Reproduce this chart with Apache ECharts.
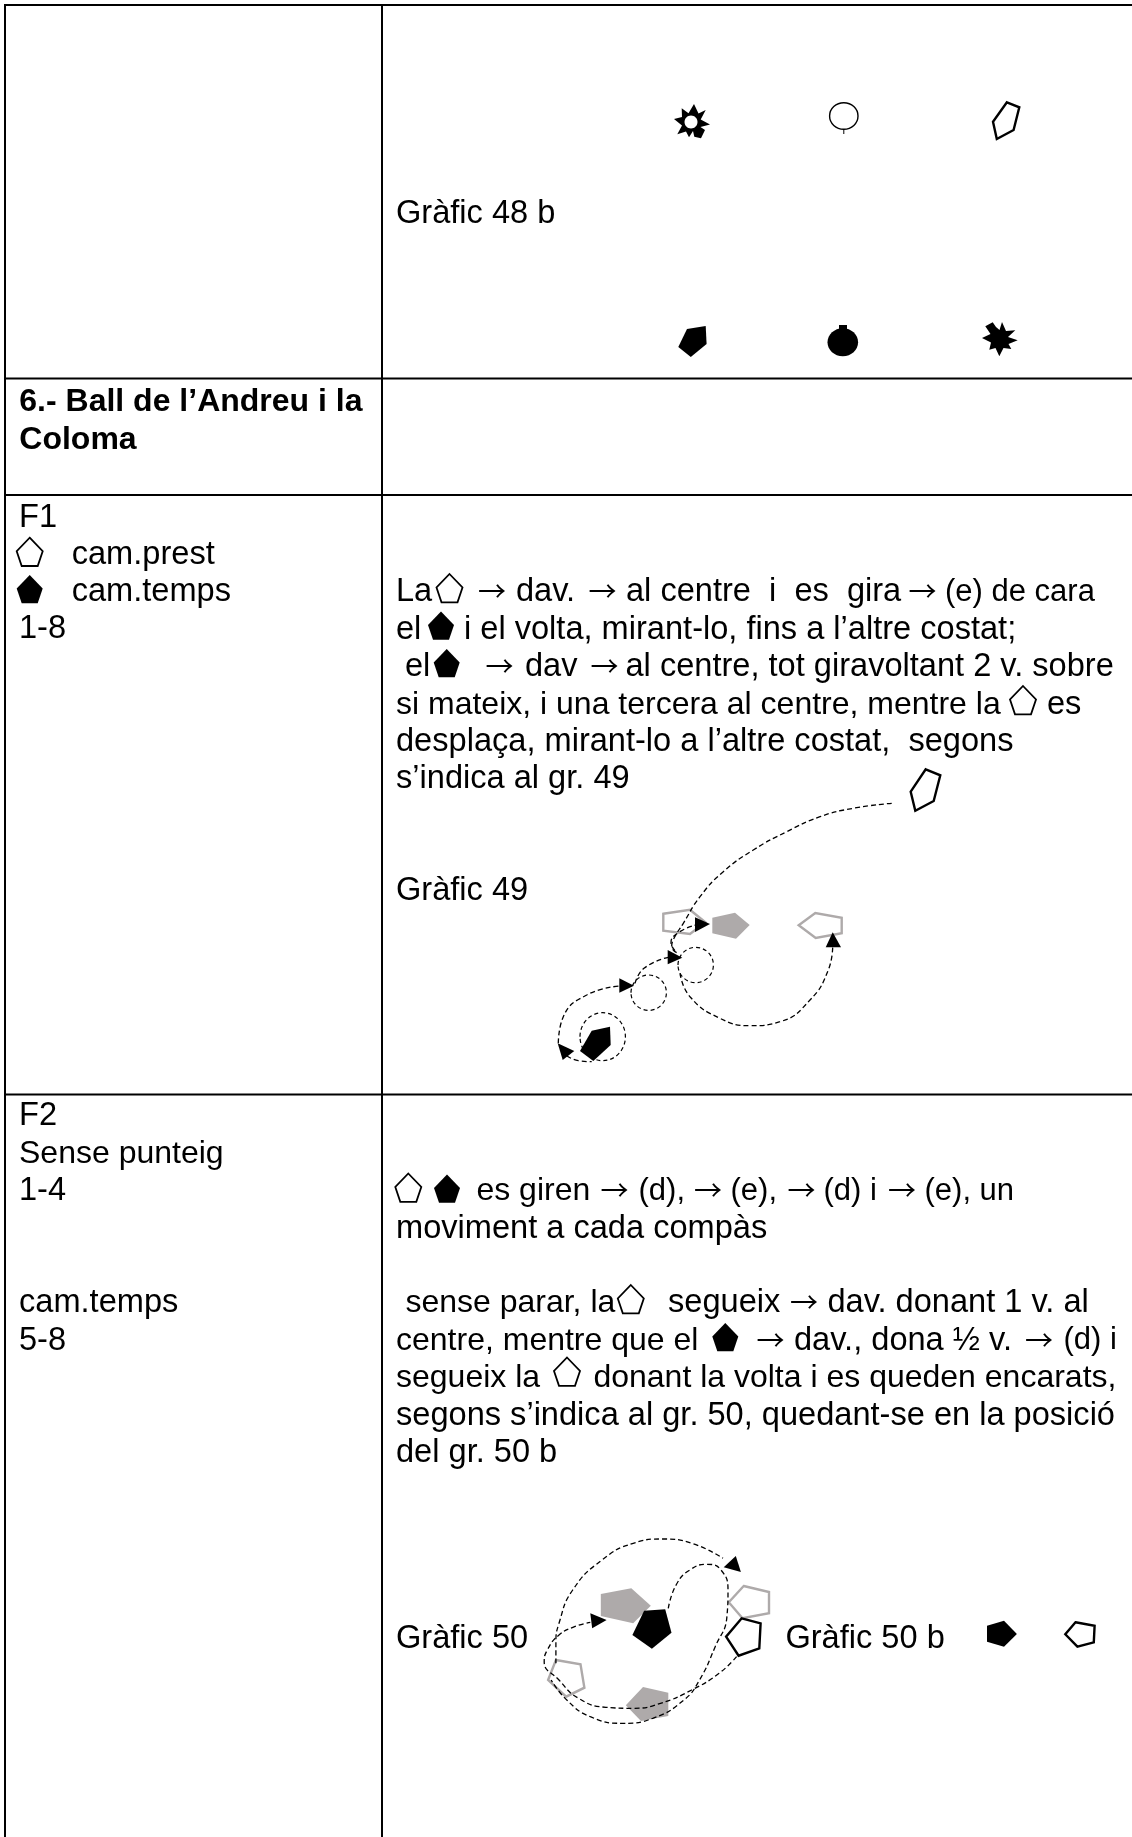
<!DOCTYPE html>
<html><head><meta charset="utf-8">
<style>html,body{margin:0;padding:0;background:#fff}#c{width:1132px;height:1837px}</style>
<script src="https://cdn.jsdelivr.net/npm/echarts@6/dist/echarts.min.js"></script>
</head><body><div id="c"></div>
<script>
// Values, in page units (x, y) on hidden axes.
const tableRules = [
  [[4,5],[1132,5]], [[4,378.5],[1132,378.5]], [[4,495],[1132,495]], [[4,1094.5],[1132,1094.5]],
  [[5,4],[5,1837]], [[382,4],[382,1837]]
];
const regularText = [
  [397,222.7,'Gràfic 48 b'],
  [20,526.7,'F1'],[72.7,563.5,'cam.prest'],[72.7,600.8,'cam.temps'],[20,638,'1-8'],
  [397,601,'La'],[517,601,'dav.'],[627,601,'al centre  i  es  gira'],
  [397,638.8,'el'],[465,638.8,'i el volta, mirant-lo, fins a l’altre costat;'],
  [406,676,'el'],[526,676,'dav'],[626.5,676,'al centre, tot giravoltant 2 v. sobre'],
  [1048,713.5,'es'],
  [397,750.8,'desplaça, mirant-lo a l’altre costat,  segons'],
  [397,788,'s’indica al gr. 49'],
  [397,900,'Gràfic 49'],
  [20,1125,'F2'],[20,1200,'1-4'],[20,1312,'cam.temps'],[20,1349.5,'5-8'],
  [397,1237.5,'moviment a cada compàs'],
  [669,1312,'segueix'],[828.4,1312,'dav. donant 1 v. al'],
  [795,1349.5,'dav., dona ½ v.'],
  [397,1424.5,'segons s’indica al gr. 50, quedant-se en la posició'],
  [397,1462,'del gr. 50 b'],
  [397,1648,'Gràfic 50'],[786.4,1648,'Gràfic 50 b']
];
const narrowText = [
  [397,713.5,'si mateix, i una tercera al centre, mentre la'],
  [20,1162.5,'Sense punteig'],
  [477.4,1200,'es giren'],
  [406.4,1312,'sense parar, la'],
  [397,1349.5,'centre, mentre que el'],
  [397,1387,'segueix la'],[594.4,1387,'donant la volta i es queden encarats,']
];
const parenText = [
  [946,601,'(e) de cara'],
  [639.5,1200,'(d),'],[731.5,1200,'(e),'],[824.5,1200,'(d) i'],[925.5,1200,'(e), un'],
  [1064.5,1349.5,'(d) i']
];
const boldText = [[20.3,411,'6.- Ball de l’Andreu i la'],[20.3,449,'Coloma']];
const arrowText = [
  [479,601],[589.5,601],[909.5,601],
  [486.5,676],[591.5,676],
  [601.5,1200],[695,1200],[788.5,1200],[889,1200],
  [791,1312],[757.5,1349.5],[1026,1349.5]
];
const arrowLabel = '→';
// small inline pentagon symbols: centre x, top y
const iconOpen = [[29.7,537.7],[449.5,574],[1023,686],[408.3,1173.5],[630.8,1285],[567,1357.5]];
const iconFilled = [[29.7,575],[441,611.5],[446.7,649],[447,1174.5],[725.3,1323]];
const iconOutline = [[0,0],[13,13.5],[8,28.3],[-8,28.3],[-13,13.5]];

const blackFilled = [
  [[687,329],[705.7,326],[706.6,344],[690.8,357],[678.3,347]],
  [[839,325],[847,325],[847,332],[839,332]],
  [[591.7,1030.7],[610,1026.7],[610.7,1045],[593.3,1061],[580,1051]],
  [[644.1,1610.7],[665.2,1609.3],[671.5,1632.7],[651.9,1648.7],[632.4,1635]],
  [[1004,1620.7],[1016.9,1634],[1004,1646.7],[987,1641.7],[987,1625.7]],
  // sun-like star
  [[681.7,108.3],[688.5,113.3],[694,104],[698.5,113.5],[705.7,110],[700.7,119.5],[710,124.5],[700.5,127],[705,130],[701,138.3],[694.3,136.7],[693,131],[689,137.3],[686,131.5],[677.3,134.3],[682,125.5],[674,119],[682,117]],
  // spiked star
  [[985.3,326.3],[992.7,322.3],[996,327],[999.5,330],[1002,322],[1006,331],[1015.3,330.3],[1008,337],[1017.7,340.3],[1008.5,344],[1011.3,349],[1003.5,348],[999.3,356.3],[995.5,348],[989.3,349.7],[991,342.5],[982,338],[990.5,334]]
];
const grayFilled = [
  [[712.3,917.7],[735,912.7],[749.7,925],[736,938.7],[712.3,933.3]],
  [[600.8,1594],[631.3,1588.3],[650.8,1605.7],[633.2,1623.3],[600.8,1616]],
  [[643,1687],[668.3,1692.7],[668.3,1716],[641,1721],[625.8,1705.3]]
];
const blackOutlined = [
  [[1006.9,102.3],[1019.3,107.3],[1013.6,130],[996.8,139],[993,121.7]],
  [[925.7,769.3],[940.3,775.3],[933.7,801],[915.3,810.7],[910.7,791.7]],
  [[741.7,1618.3],[760.6,1623.3],[759.3,1648.3],[738.6,1655.7],[726.1,1636.7]],
  [[1075.5,1622.3],[1094.6,1625.7],[1093.8,1642.3],[1077.4,1646.7],[1065.3,1634.3]]
];
const grayOutlined = [
  [[663.3,913.7],[690,909.7],[705.3,922.3],[690,934],[663.3,930.7]],
  [[798.7,925.3],[815.3,913],[841.7,917.7],[841.7,933.3],[815.7,938]],
  [[555.9,1660],[580.5,1664.3],[584.4,1687.7],[566.1,1696.7],[548.1,1680]],
  [[743.7,1586],[769,1592],[769,1613.3],[742.5,1618.3],[728.8,1602.3]]
];
const arrowHeads = [
  [[832.7,932.3],[825.7,947.3],[841,947.3]],
  [[710,924],[695,917.3],[695,932]],
  [[682.3,957.7],[667.7,950],[667.7,964.3]],
  [[634,985.7],[619.3,978.3],[619.3,992.7]],
  [[557.7,1043.3],[574.3,1051],[562.7,1060]],
  [[735.8,1556],[740.9,1572],[723.7,1567.3]],
  [[606.6,1620],[590.3,1613.3],[592.2,1628.3]]
];
const dashedCurves = [
  [[891.7,803.3],[853.3,808.3],[820,816.7],[786.7,831.7],[753.3,850],[723.3,871.7],[700,896.7],[683.3,923.3],[674,938.3],[671.7,946.7],[676.7,952.7]],
  [[680,973.3],[690,996.7],[720,1018.3],[750,1025.7],[780,1021.7],[810,1000],[828.3,970],[832.7,946.7]],
  [[675,950.7],[671,942.7],[678.3,932.7],[695.7,925]],
  [[635,983.3],[644,968.3],[668.3,957.3]],
  [[558.3,1043.3],[563.3,1016.7],[586.7,995],[620,986]],
  [[566.7,1055.7],[578.3,1060.7],[591.7,1061.7]],
  [[555.9,1663.3],[555.9,1643.3],[559,1623.3],[572.7,1590],[602,1560],[633.2,1543.3],[662.5,1539],[691.7,1543.3],[723,1558.3]],
  [[668.3,1608.3],[676.1,1585],[689.8,1570],[707.4,1564.3],[721,1570],[728,1590],[726.9,1616.7],[715.2,1646.7],[699.5,1680],[683.9,1700],[652.7,1718.3],[623.4,1723.3],[590.3,1716.7],[566.8,1700],[551.2,1680]],
  [[736.6,1656.7],[719.1,1673.3],[691.7,1690],[660.5,1703.3],[633.2,1708.3],[605.9,1707.3],[578.5,1698.3],[559,1680],[544.2,1661.7],[547.3,1650],[559,1635],[574.6,1626.7],[590.3,1622.3]]
];
const dashedRings = [[695.7,965,17.7,17.7],[648.7,992.7,17.7,17.7],[602.7,1036.7,22.7,24]];
const ballFilled = [[842.8,342.3,15.3,14]];
const ballOpen = [[843.8,116,14.2,13.3]];
const sunHole = [[691,122,6.5,6.5]];
const stems = [[[843.8,129.3],[843.8,134]]];

const FONT = '"Liberation Sans", Arial, Helvetica, sans-serif';
const BASE_SHIFT = 8.8;
const TEXT_DX = -1;

function polySeries(name, list, style, z) {
  return { type:'custom', name, coordinateSystem:'cartesian2d', silent:true, z, clip:false,
    data:list.map((_,i)=>[i]),
    renderItem(p, api){
      return { type:'polygon', shape:{points:list[p.dataIndex].map(q=>api.coord(q))}, style };
    }};
}
function ellipseSeries(name, list, style, z) {
  return { type:'custom', name, coordinateSystem:'cartesian2d', silent:true, z, clip:false,
    data:list.map((_,i)=>[i]),
    renderItem(p, api){
      const e = list[p.dataIndex], c = api.coord([e[0],e[1]]), s = api.size([e[2],e[3]]);
      return { type:'ellipse', shape:{cx:c[0],cy:c[1],rx:s[0],ry:s[1]}, style };
    }};
}
function textSeries(name, list, font, z, shift) {
  return { type:'custom', name, coordinateSystem:'cartesian2d', silent:true, z, clip:false,
    data:list.map((_,i)=>[i]),
    renderItem(p, api){
      const t = list[p.dataIndex], c = api.coord([t[0],t[1]]);
      return { type:'text', style:{ x:c[0]+TEXT_DX, y:c[1]-shift, text:t[2]===undefined?arrowLabel:t[2], font,
        fill:'#000', textAlign:'left', textVerticalAlign:'middle', verticalAlign:'middle' } };
    }};
}
const iconPoly = a => a.map(i => iconOutline.map(o => [i[0]+o[0], i[1]+o[1]]));
const lineSeries = (pts, color, width, dash, smooth, z) => ({
  type:'line', data:pts, showSymbol:false, symbol:'none', silent:true, clip:false, z,
  smooth: smooth, lineStyle:{color, width, type:dash}, animation:false
});

const series = [
  ...tableRules.map(r => lineSeries(r,'#000',2,'solid',false,1)),
  polySeries('grayFilled',grayFilled,{fill:'#aeaaaa'},2),
  polySeries('blackFilled',blackFilled,{fill:'#000'},3),
  polySeries('grayOutlined',grayOutlined,{fill:'none',stroke:'#aeaaaa',lineWidth:2.4},3),
  polySeries('blackOutlined',blackOutlined,{fill:'none',stroke:'#000',lineWidth:2.4},4),
  polySeries('iconOpen',iconPoly(iconOpen),{fill:'none',stroke:'#000',lineWidth:1.8},4),
  polySeries('iconFilled',iconPoly(iconFilled),{fill:'#000'},4),
  ellipseSeries('ballFilled',ballFilled,{fill:'#000'},4),
  ellipseSeries('ballOpen',ballOpen,{fill:'none',stroke:'#000',lineWidth:1.4},4),
  ellipseSeries('sunHole',sunHole,{fill:'#fff'},5),
  ...stems.map(s => lineSeries(s,'#000',1,'solid',false,4)),
  ...dashedCurves.map(c => lineSeries(c,'#000',1.3,[5,3],0.5,6)),
  ellipseSeries('dashedRings',dashedRings,{fill:'none',stroke:'#000',lineWidth:1.2,lineDash:[4,3]},6),
  polySeries('arrowHeads',arrowHeads,{fill:'#000'},7),
  textSeries('text',regularText,'32.6px '+FONT,8,BASE_SHIFT),
  textSeries('narrow',narrowText,'32px '+FONT,8,BASE_SHIFT),
  textSeries('paren',parenText,'31px '+FONT,8,BASE_SHIFT),
  textSeries('bold',boldText,'bold 32px '+FONT,8,BASE_SHIFT),
  textSeries('arrows',arrowText,'28px "Noto Sans CJK SC"',8,BASE_SHIFT+0.5)
];

const chart = echarts.init(document.getElementById('c'), null, {width:1132, height:1837});
chart.setOption({
  animation:false,
  backgroundColor:'#fff',
  grid:{left:0,right:0,top:0,bottom:0,containLabel:false},
  xAxis:{type:'value',min:0,max:1132,show:false},
  yAxis:{type:'value',min:0,max:1837,inverse:true,show:false},
  tooltip:{show:false},
  series
});
</script></body></html>
